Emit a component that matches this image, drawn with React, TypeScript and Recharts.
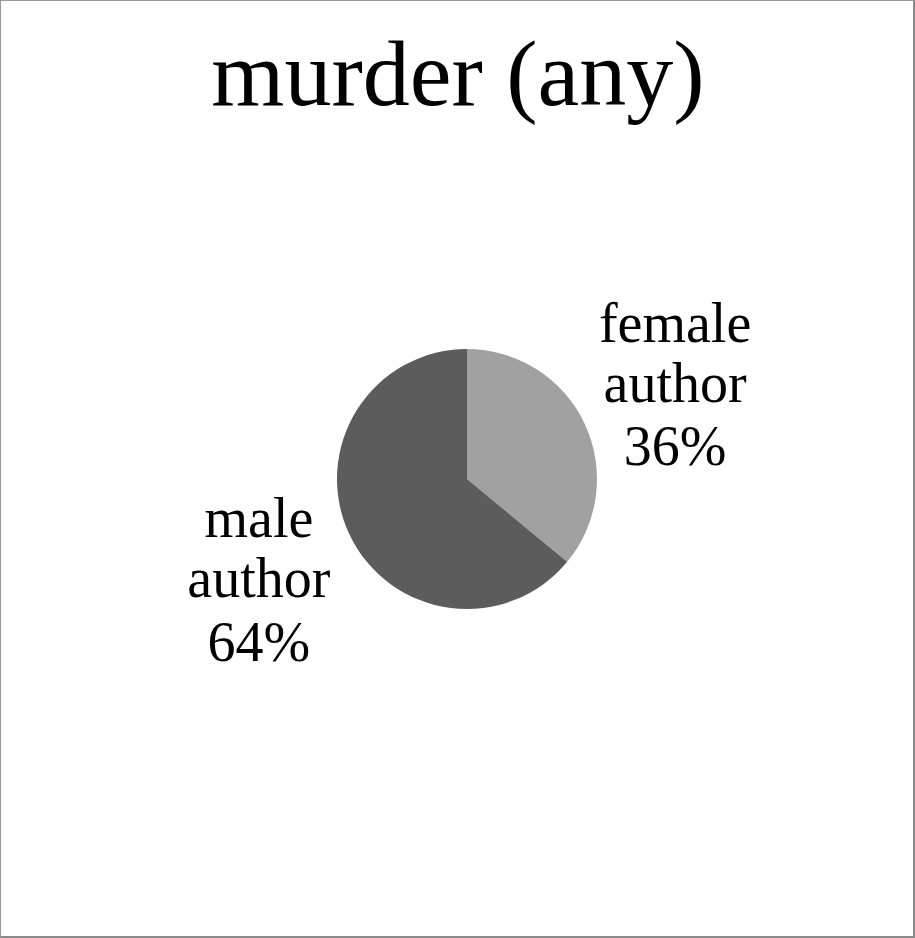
import React from "react";
import { PieChart, Pie, Cell } from "recharts";

const categories = ["female author", "male author"];
const values = [36, 64];
const colors = ["#a1a1a1", "#5c5c5c"];
const title = "murder (any)";

const data = categories.map((name, i) => ({ name, value: values[i] }));

const FONT = "'Liberation Serif', 'Times New Roman', serif";
const RAD = Math.PI / 180;

const renderLabel = (props: any) => {
  const { cx, cy, midAngle, outerRadius, percent, name } = props;
  const r = outerRadius + 100;
  const x = cx + r * Math.cos(-midAngle * RAD);
  const y = cy + r * Math.sin(-midAngle * RAD);
  const words = String(name).split(" ");
  const lines = [...words, `${Math.round(percent * 100)}%`];
  const offsets = [-39.5, 20.5, 84];
  return (
    <text x={x} y={y} textAnchor="middle" fill="#000" fontFamily={FONT} fontSize={56}>
      {lines.map((l, i) => (
        <tspan key={i} x={x} y={y + offsets[i]}>
          {l}
        </tspan>
      ))}
    </text>
  );
};

export default function App() {
  return (
    <div style={{ position: "relative", width: 915, height: 938, background: "#fff" }}>
      <style>{`body{margin:0}`}</style>
      <div
        style={{
          position: "absolute",
          left: 0,
          top: 0,
          width: 915,
          height: 938,
          boxSizing: "border-box",
          borderTop: "1px solid #9a9a9a",
          borderLeft: "1px solid #9a9a9a",
          borderRight: "2px solid #8a8a8a",
          borderBottom: "2px solid #8a8a8a",
          pointerEvents: "none",
          zIndex: 2,
        }}
      />
      <svg width={915} height={140} style={{ position: "absolute", left: 0, top: 0 }}>
        <text x={458} y={105} textAnchor="middle" fontFamily={FONT} fontSize={94} fill="#000">
          {title}
        </text>
      </svg>
      <div style={{ position: "absolute", left: 0, top: 0 }}>
        <PieChart width={915} height={938} margin={{ top: 0, right: 0, bottom: 0, left: 0 }}>
          <Pie
            data={data}
            dataKey="value"
            nameKey="name"
            cx={467}
            cy={479}
            outerRadius={130}
            startAngle={90}
            endAngle={-270}
            stroke="none"
            label={renderLabel}
            labelLine={false}
            isAnimationActive={false}
          >
            {data.map((d, i) => (
              <Cell key={d.name} fill={colors[i]} />
            ))}
          </Pie>
        </PieChart>
      </div>
    </div>
  );
}
